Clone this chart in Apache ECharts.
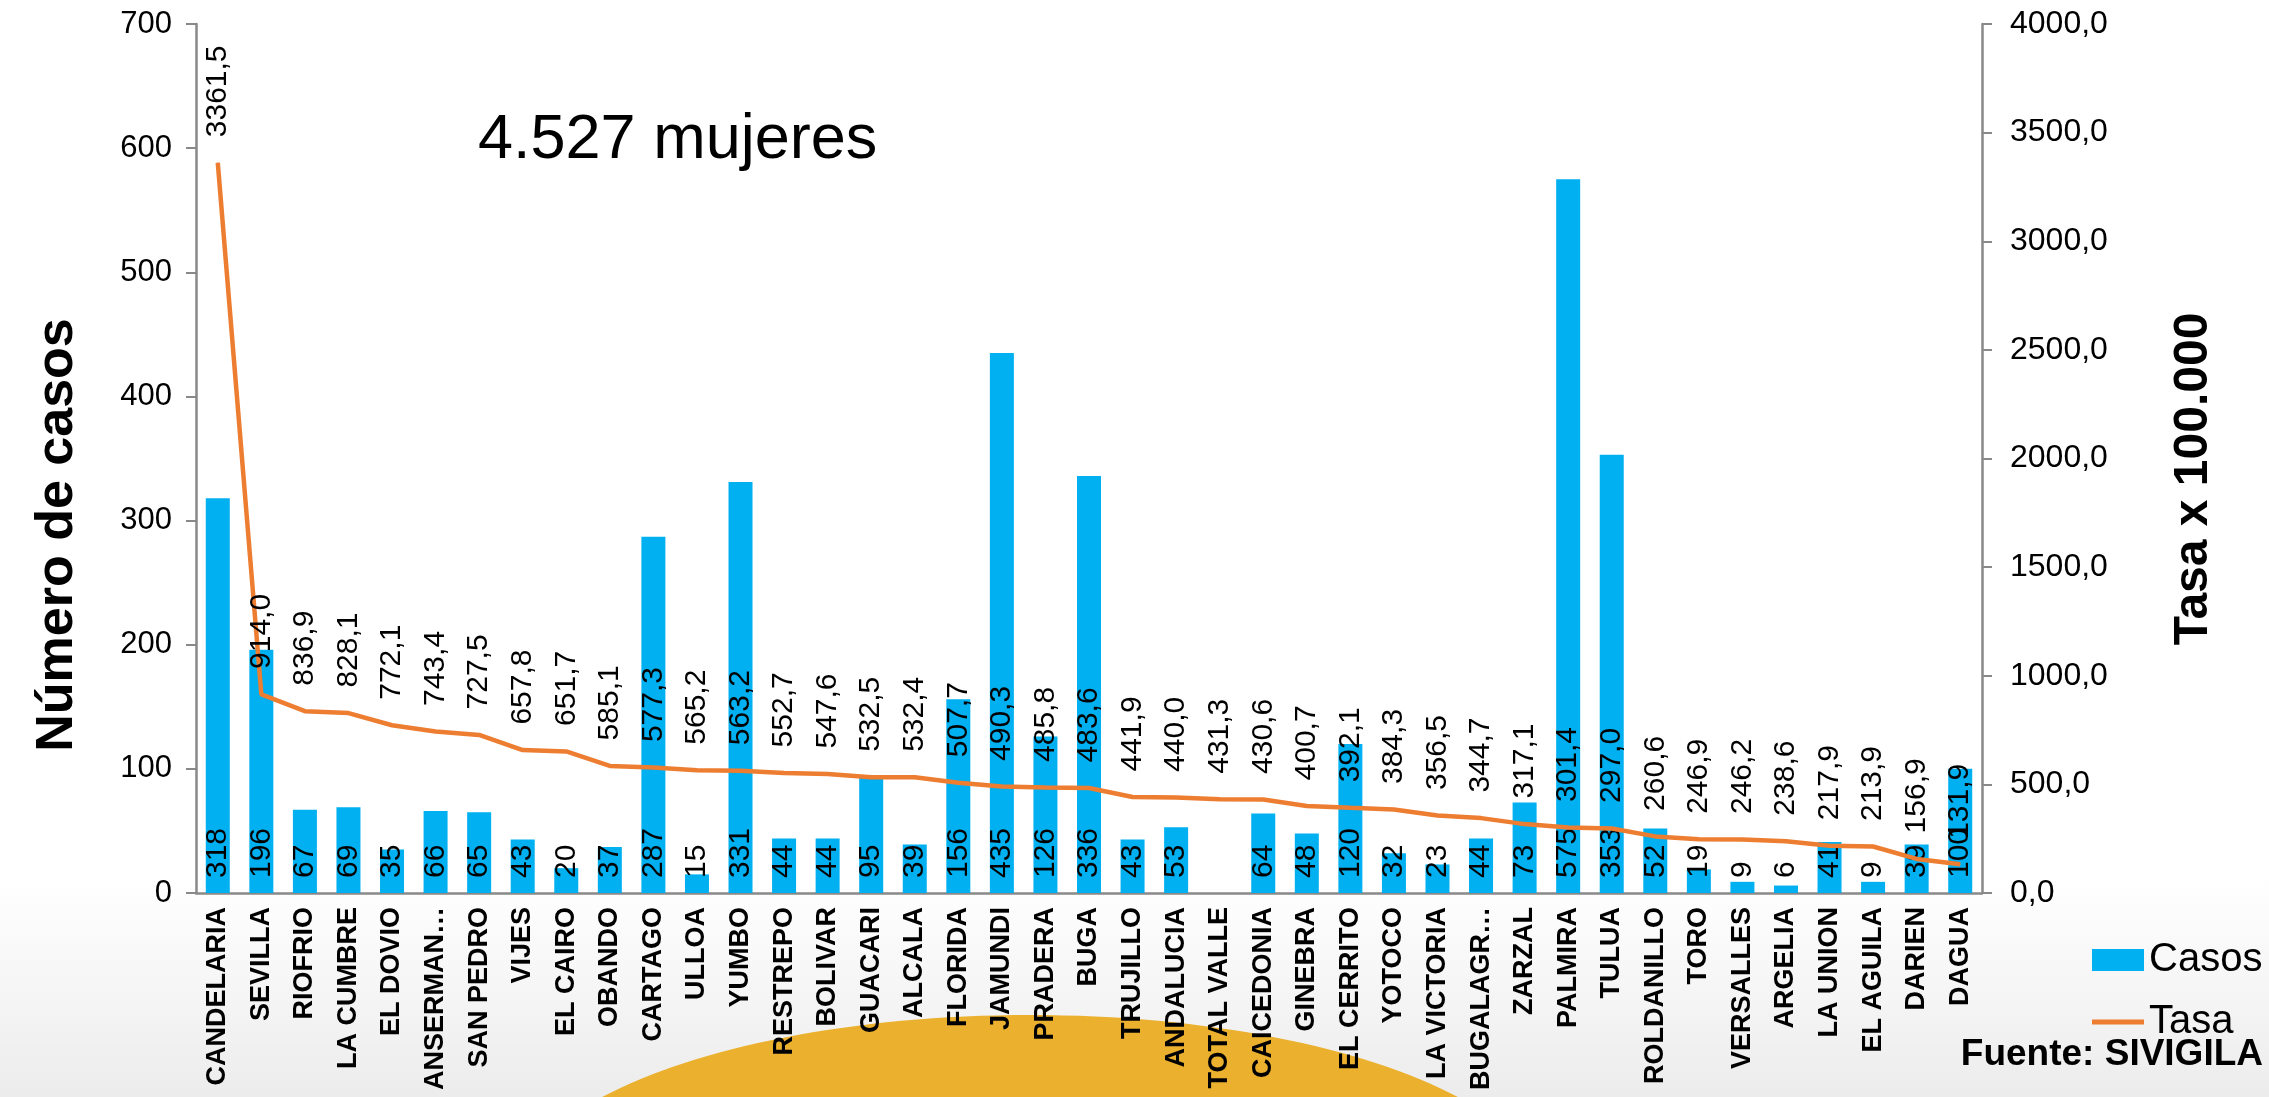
<!DOCTYPE html>
<html>
<head>
<meta charset="utf-8">
<title>Casos y tasa por municipio</title>
<script src="https://cdn.jsdelivr.net/npm/echarts@6/dist/echarts.min.js"></script>
<style>
  html, body { margin: 0; padding: 0; background: #fff; }
  #main { width: 2269px; height: 1097px; }
</style>
</head>
<body>
<div id="main"></div>
<script>
// municipios (eje x)
const municipios = ['CANDELARIA', 'SEVILLA', 'RIOFRIO', 'LA CUMBRE', 'EL DOVIO', 'ANSERMAN…', 'SAN PEDRO', 'VIJES',
  'EL CAIRO', 'OBANDO', 'CARTAGO', 'ULLOA', 'YUMBO', 'RESTREPO', 'BOLIVAR', 'GUACARI', 'ALCALA', 'FLORIDA',
  'JAMUNDI', 'PRADERA', 'BUGA', 'TRUJILLO', 'ANDALUCIA', 'TOTAL VALLE', 'CAICEDONIA', 'GINEBRA', 'EL CERRITO',
  'YOTOCO', 'LA VICTORIA', 'BUGALAGR…', 'ZARZAL', 'PALMIRA', 'TULUA', 'ROLDANILLO', 'TORO', 'VERSALLES',
  'ARGELIA', 'LA UNION', 'EL AGUILA', 'DARIEN', 'DAGUA']
// numero de casos (barras), TOTAL VALLE sin barra
const casos = [318, 196, 67, 69, 35, 66, 65, 43, 20, 37, 287, 15, 331, 44, 44, 95, 39, 156,
  435, 126, 336, 43, 53, null, 64, 48, 120, 32, 23, 44, 73, 575, 353, 52, 19, 9,
  6, 41, 9, 39, 100]
// tasa x 100.000 (linea)
const tasa = [3361.5, 914.0, 836.9, 828.1, 772.1, 743.4, 727.5, 657.8, 651.7, 585.1, 577.3, 565.2, 563.2, 552.7,
  547.6, 532.5, 532.4, 507.7, 490.3, 485.8, 483.6, 441.9, 440.0, 431.3, 430.6, 400.7, 392.1, 384.3, 356.5,
  344.7, 317.1, 301.4, 297.0, 260.6, 246.9, 246.2, 238.6, 217.9, 213.9, 156.9, 131.9]

const fuente = 'Liberation Sans, Arial, sans-serif'
const coma = v => Number(v).toFixed(1).replace('.', ',')

const myChart = echarts.init(document.getElementById('main'))
const option = {
  textStyle: { fontFamily: fuente },
  animation: false,
  // sin ajuste automatico: las etiquetas de abajo se salen como en el original
  grid: { left: 196, right: 287, top: 24, bottom: 204, outerBoundsMode: 'none' },
  // fondo gris abajo y la forma amarilla
  graphic: [
    {
      type: 'rect', z: -20, silent: true,
      shape: { x: 0, y: 880, width: 2269, height: 217 },
      style: {
        fill: new echarts.graphic.LinearGradient(0, 0, 0, 1, [
          { offset: 0, color: '#ffffff' },
          { offset: 1, color: '#ececec' }
        ])
      }
    },
    {
      type: 'ellipse', z: -10, silent: true,
      shape: { cx: 1030, cy: 1205, rx: 520, ry: 190 },
      style: { fill: '#EBB12E' }
    },
    {
      type: 'text', x: 478, y: 141,
      style: { text: '4.527 mujeres', fontSize: 63, fontFamily: fuente, fill: '#000', align: 'left', verticalAlign: 'middle' }
    },
    {
      type: 'text', x: 58, y: 535, rotation: Math.PI / 2,
      style: { text: 'Número de casos', fontSize: 52, fontWeight: 'bold', fontFamily: fuente, fill: '#000', align: 'center', verticalAlign: 'middle' }
    },
    {
      type: 'text', x: 2194, y: 479, rotation: Math.PI / 2,
      style: { text: 'Tasa x 100.000', fontSize: 48, fontWeight: 'bold', fontFamily: fuente, fill: '#000', align: 'center', verticalAlign: 'middle' }
    },
    {
      type: 'text', x: 2263, y: 1055,
      style: { text: 'Fuente: SIVIGILA', fontSize: 37, fontWeight: 'bold', fontFamily: fuente, fill: '#000', align: 'right', verticalAlign: 'middle' }
    }
  ],
  legend: {
    orient: 'vertical', left: 2087, top: 935,
    itemWidth: 52, itemHeight: 22, itemGap: 22,
    textStyle: { fontSize: 40, color: '#000', fontFamily: fuente },
    data: [
      { name: 'Casos', icon: 'rect' },
      { name: 'Tasa', icon: 'path://M0,0L52,0L52,5L0,5Z', itemStyle: { color: '#ED7D31' } }
    ]
  },
  xAxis: {
    type: 'category',
    data: municipios,
    axisLine: { lineStyle: { color: '#898989', width: 2.5 } },
    axisTick: { show: false },
    axisLabel: { interval: 0, rotate: 90, margin: 14, fontSize: 27, fontWeight: 'bold', color: '#000', fontFamily: fuente }
  },
  yAxis: [
    {
      type: 'value', min: 0, max: 700, interval: 100,
      splitLine: { show: false },
      axisLine: { show: true, lineStyle: { color: '#898989', width: 2.5 } },
      axisTick: { show: true, length: 10, lineStyle: { color: '#898989', width: 2 } },
      axisLabel: { fontSize: 31, color: '#000', margin: 24, fontFamily: fuente }
    },
    {
      type: 'value', min: 0, max: 4000, interval: 500,
      splitLine: { show: false },
      axisLine: { show: true, lineStyle: { color: '#898989', width: 2.5 } },
      axisTick: { show: true, length: 10, lineStyle: { color: '#898989', width: 2 } },
      axisLabel: { fontSize: 32, color: '#000', margin: 28, fontFamily: fuente, formatter: v => coma(v) }
    }
  ],
  series: [
    {
      name: 'Casos',
      type: 'bar',
      data: casos,
      barWidth: 24,
      itemStyle: { color: '#00B0F0' },
      label: {
        show: true, position: 'insideBottom', distance: 15, rotate: 90,
        align: 'left', verticalAlign: 'middle',
        fontSize: 30, color: '#000', fontFamily: fuente
      }
    },
    {
      name: 'Tasa',
      type: 'line',
      yAxisIndex: 1,
      data: tasa,
      // simbolo minimo para que se vean las etiquetas
      symbol: 'circle',
      symbolSize: 1,
      showSymbol: true,
      showAllSymbol: true,
      z: 3,
      lineStyle: { color: '#ED7D31', width: 4.5 },
      itemStyle: { color: '#ED7D31' },
      label: {
        show: true, position: 'top', distance: 25, rotate: 90,
        align: 'left', verticalAlign: 'middle',
        fontSize: 30, color: '#000', fontFamily: fuente,
        formatter: p => coma(p.value)
      }
    }
  ]
}
myChart.setOption(option)
</script>
</body>
</html>
